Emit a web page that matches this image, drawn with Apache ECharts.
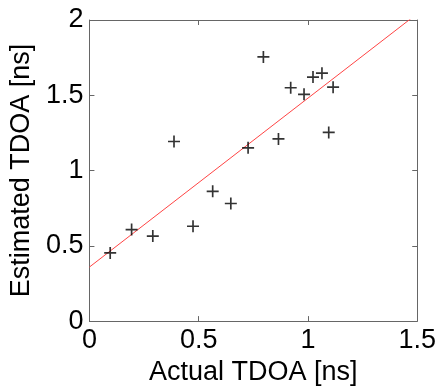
<!DOCTYPE html>
<html>
<head>
<meta charset="utf-8">
<script src="https://cdn.jsdelivr.net/npm/echarts@6/dist/echarts.min.js"></script>
<style>
    html, body { margin: 0; padding: 0; background: #fff; }
    #chart-box { width: 439px; height: 391px; }
</style>
</head>
<body>
<div id="chart-box"></div>
<script>
    // measured points (actual, estimated)
    var actualTdoa = [0.095, 0.193, 0.29, 0.387, 0.474, 0.564, 0.647, 0.726, 0.796, 0.865, 0.921, 0.982, 1.023, 1.064, 1.095, 1.115];
    var estimatedTdoa = [0.453, 0.608, 0.565, 1.193, 0.63, 0.862, 0.781, 1.151, 1.755, 1.21, 1.55, 1.506, 1.621, 1.647, 1.253, 1.554];
    // fitted line end points
    var fitX = [0, 1.5];
    var fitY = [0.359, 2.042];

    var fontName = 'Liberation Sans, Arial, sans-serif';
    var axisGray = '#666';

    var points = [];
    for (var i = 0; i < actualTdoa.length; i++) {
        points.push([actualTdoa[i], estimatedTdoa[i]]);
    }
    var fitLine = [];
    for (var j = 0; j < fitX.length; j++) {
        fitLine.push([fitX[j], fitY[j]]);
    }

    var myChart = echarts.init(document.getElementById('chart-box'), null, { renderer: 'canvas' });

    var boxAxis = function (extra) {
        return Object.assign({
            type: 'value',
            axisLine: { show: true, onZero: false, lineStyle: { color: axisGray, width: 1 } },
            axisTick: { show: true, inside: true, length: 5, lineStyle: { color: axisGray } },
            splitLine: { show: false }
        }, extra);
    };

    var option = {
        animation: false,
        backgroundColor: '#fff',
        grid: { left: 88, right: 20, top: 20, bottom: 63, containLabel: false },
        xAxis: [
            boxAxis({
                position: 'bottom', min: 0, max: 1.5, interval: 0.5,
                name: 'Actual TDOA [ns]', nameLocation: 'middle', nameGap: 35,
                nameTextStyle: { color: '#000', fontSize: 27, fontFamily: fontName },
                axisLabel: { color: '#000', fontSize: 27, fontFamily: fontName, margin: 6 }
            }),
            boxAxis({
                position: 'top', min: 0, max: 1.5, interval: 0.5,
                axisLabel: { show: false }
            })
        ],
        yAxis: [
            boxAxis({
                position: 'left', min: 0, max: 2, interval: 0.5,
                name: 'Estimated TDOA [ns]', nameLocation: 'middle', nameGap: 48,
                nameTextStyle: { color: '#000', fontSize: 27, fontFamily: fontName },
                axisLabel: { color: '#000', fontSize: 27, fontFamily: fontName, margin: 6 }
            }),
            boxAxis({
                position: 'right', min: 0, max: 2, interval: 0.5,
                axisLabel: { show: false }
            })
        ],
        series: [
            {
                type: 'line',
                data: fitLine,
                xAxisIndex: 0, yAxisIndex: 0,
                symbol: 'none',
                clip: true,
                lineStyle: { color: '#ff4444', width: 1 },
                z: 1
            },
            {
                type: 'scatter',
                data: points,
                xAxisIndex: 0, yAxisIndex: 0,
                symbol: 'path://M4.3,0h1.4v10h-1.4z M0,4.3h10v1.4h-10z',
                symbolSize: 12,
                itemStyle: { color: '#000' },
                z: 2
            }
        ]
    };

    myChart.setOption(option, true);
</script>
</body>
</html>
